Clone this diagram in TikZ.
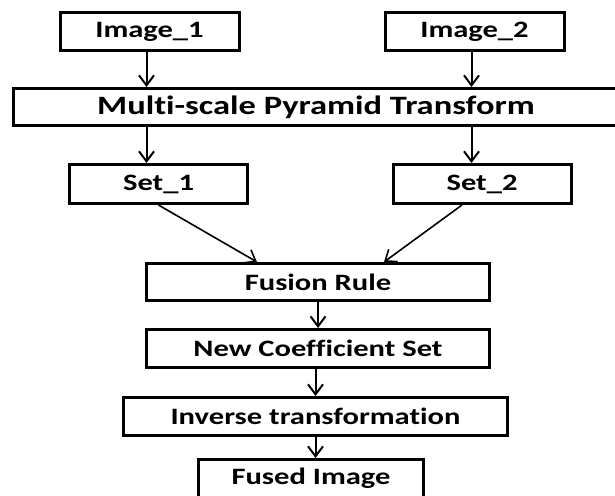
\documentclass[tikz,border=0pt]{standalone}
\usepackage{fontspec}
\setmainfont[FakeStretch=1.3,Ligatures=CommonOff]{Carlito}
\usetikzlibrary{arrows.meta}

\begin{document}
\begin{tikzpicture}[x=1pt,y=-1pt]
  \tikzset{stage/.style={draw,line width=3pt,inner sep=0pt,font=\fontsize{23.5}{28}\selectfont\bfseries},
           flow/.style={line width=2pt,-{Straight Barb[length=10pt,width=15pt]}}}
  \useasboundingbox (0,0) rectangle (615,495);
  \node [stage,minimum width=179pt,minimum height=38pt] (img1) at (149.5,31.5) {Image\_1};
  \node [stage,minimum width=179pt,minimum height=38pt] (img2) at (474.5,31.5) {Image\_2};
  \node [stage,minimum width=605pt,minimum height=37pt,font=\fontsize{26.5}{30}\selectfont\bfseries] (multi) at (316,107) {Multi-scale Pyramid Transform};
  \node [stage,minimum width=178pt,minimum height=39pt] (set1) at (158.5,184) {Set\_1};
  \node [stage,minimum width=178pt,minimum height=39pt] (set2) at (482,184) {Set\_2};
  \node [stage,minimum width=343pt,minimum height=37pt] (fusion) at (318,282) {Fusion Rule};
  \node [stage,minimum width=343pt,minimum height=38pt] (newcoef) at (318,348.5) {New Coefficient Set};
  \node [stage,minimum width=384pt,minimum height=38pt] (inverse) at (315.5,416.5) {Inverse transformation};
  \node [stage,minimum width=225pt,minimum height=38pt] (fused) at (311,478.5) {Fused Image};
  \draw [flow] ([xshift=-3pt]img1.south) -- ([xshift=-3pt]img1.south |- multi.north);
  \draw [flow] ([xshift=-3pt]img2.south) -- ([xshift=-3pt]img2.south |- multi.north);
  \draw [flow] ([xshift=-3pt]img1.south |- multi.south) -- ([xshift=-3pt]img1.south |- set1.north);
  \draw [flow] ([xshift=-3pt]img2.south |- multi.south) -- ([xshift=-3pt]img2.south |- set2.north);
  \draw [flow,line width=1.6pt] (set1.south) -- ([xshift=-61pt]fusion.north);
  \draw [flow,line width=1.6pt] ([xshift=-20pt]set2.south) -- ([xshift=66pt]fusion.north);
  \draw [flow] (fusion) -- (newcoef);
  \draw [flow] (inverse.north |- newcoef.south) -- (inverse.north);
  \draw [flow] (inverse.south) -- (inverse.south |- fused.north);
\end{tikzpicture}
\end{document}
